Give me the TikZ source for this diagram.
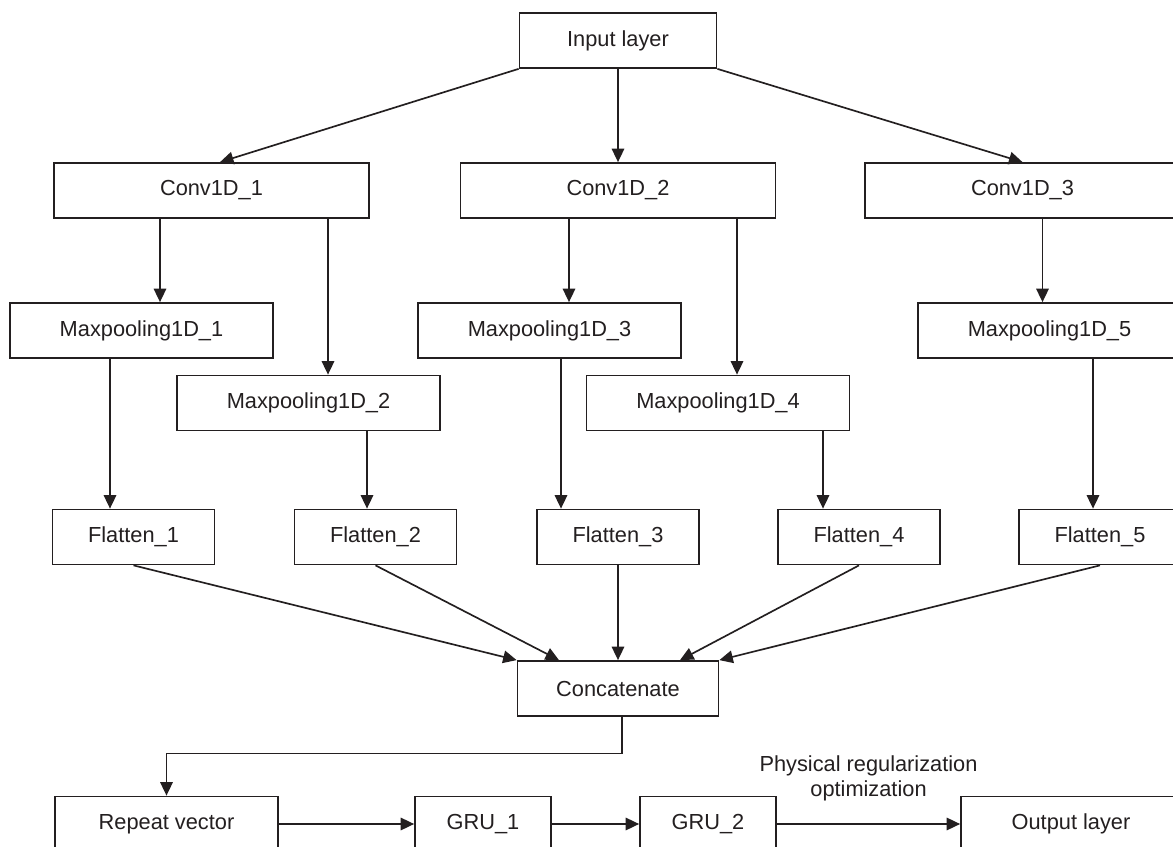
\documentclass[tikz,border=0pt]{standalone}
\usepackage{fontspec}
\setmainfont{Liberation Sans}
\usetikzlibrary{arrows.meta, positioning, calc}
\definecolor{inkdark}{RGB}{35, 31, 32}

\tikzset{
  layer/.style={draw=inkdark, line width=1pt, minimum height=1.1cm, inner sep=0pt,
    text=inkdark, font=\fontsize{12.4}{14.2}\selectfont},
  flow/.style={draw=inkdark, line width=0.95pt, -{Triangle[length=2.7mm, width=2.5mm]}},
}

\begin{document}
\begin{tikzpicture}[x=0.02cm, y=-0.02cm]
  \useasboundingbox (0,0) rectangle (1173,847);
  \clip (0,0) rectangle (1173,847);
  \fill[white] (0,0) rectangle (1173,847);

  % input and convolution branches
  \node[layer, minimum width=3.94cm] (inp) at (618,40.5) {Input layer};
  \node[layer, minimum width=6.3cm] (c1) at (211.5,190.5) {Conv1D\_1};
  \node[layer, minimum width=6.3cm] (c2) at (618,190.5) {Conv1D\_2};
  \node[layer, minimum width=6.3cm] (c3) at (1022.5,190.5) {Conv1D\_3};

  % pooling layers
  \node[layer, minimum width=5.26cm] (mp1) at (141.5,330.5) {Maxpooling1D\_1};
  \node[layer, minimum width=5.26cm] (mp2) at (308.5,403) {Maxpooling1D\_2};
  \node[layer, minimum width=5.26cm] (mp3) at (549.5,330.5) {Maxpooling1D\_3};
  \node[layer, minimum width=5.26cm] (mp4) at (718,403) {Maxpooling1D\_4};
  \node[layer, minimum width=5.26cm] (mp5) at (1049.5,330.5) {Maxpooling1D\_5};

  % flatten layers
  \node[layer, minimum width=3.24cm] (f1) at (133.5,537) {Flatten\_1};
  \node[layer, minimum width=3.24cm] (f2) at (375.5,537) {Flatten\_2};
  \node[layer, minimum width=3.24cm] (f3) at (618,537) {Flatten\_3};
  \node[layer, minimum width=3.24cm] (f4) at (859,537) {Flatten\_4};
  \node[layer, minimum width=3.24cm] (f5) at (1100,537) {Flatten\_5};

  \node[layer, minimum width=4.02cm] (cc) at (618,688.5) {Concatenate};

  % recurrent part
  \node[layer, minimum width=4.46cm] (rv) at (166.5,824) {Repeat vector};
  \node[layer, minimum width=2.72cm] (g1) at (483,824) {GRU\_1};
  \node[layer, minimum width=2.72cm] (g2) at (708,824) {GRU\_2};
  \node[layer, minimum width=4.4cm] (out) at (1071,824) {Output layer};

  % connections
  \draw[flow] (inp.south west) -- ($(c1.north)+(8.5,0)$);
  \draw[flow] (inp.south) -- (c2.north);
  \draw[flow] (inp.south east) -- (c3.north);

  \foreach \src/\dst/\dx in {c1/mp1/-51.5, c1/mp2/116.5, c2/mp3/-49, c2/mp4/119, c3/mp5/20,
      mp1/f1/-31.5, mp2/f2/58.5, mp3/f3/11.5, mp4/f4/105, mp5/f5/43.5}
    \draw[flow] ($(\src.south)+(\dx,0)$) coordinate (t) -- (t |- \dst.north);

  \draw[flow] (f1.south) -- (cc.north west);
  \draw[flow] (f2.south) -- ($(cc.north)+(-59,0)$);
  \draw[flow] (f3.south) -- (cc.north);
  \draw[flow] (f4.south) -- ($(cc.north)+(62,0)$);
  \draw[flow] (f5.south) -- (cc.north east);

  \draw[flow] ($(cc.south)+(4,0)$) -- ++(0,36.5) -| (rv.north);
  \draw[flow] (rv) -- (g1);
  \draw[flow] (g1) -- (g2);
  \draw[flow] (g2) -- node[above=0.44cm, align=center, inner sep=0pt, text=inkdark,
    font=\fontsize{12.4}{14.2}\selectfont] {Physical regularization\\optimization} (out);
\end{tikzpicture}
\end{document}
